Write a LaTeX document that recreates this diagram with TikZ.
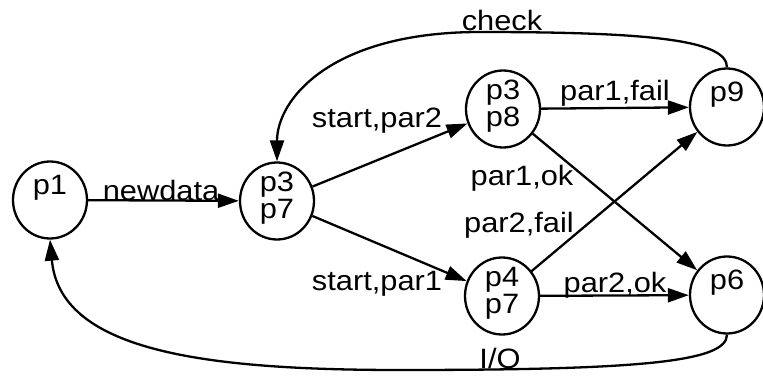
\documentclass[tikz,border=0pt]{standalone}
\usepackage{fontspec}
\setmainfont{Liberation Sans}[FakeStretch=1.1]
\usetikzlibrary{arrows.meta,shapes.geometric}
\begin{document}
\begin{tikzpicture}[x=1pt,y=1pt,
  state/.style={draw, ellipse, line width=2.3pt, minimum width=74pt, minimum height=77pt, inner sep=0pt},
  txt/.style={font=\fontsize{28pt}{28pt}\selectfont, inner sep=0pt, anchor=base},
  edge/.style={line width=2.3pt, -{Triangle[length=21pt,width=14pt]}}]
\useasboundingbox (0,0) rectangle (763,376);
% states
\node[state] (p1)  at (50,176) {};
\node[state] (p37) at (277,175) {};
\node[state] (p38) at (503,267) {};
\node[state] (p9)  at (727,269) {};
\node[state] (p47) at (502,80) {};
\node[state] (p6)  at (727,81) {};
% state texts
\node[txt] (t1)   at (50,182) {p1};
\node[txt] (t37a) at (277,185) {p3};
\node[txt] (t37b) at (277,158) {p7};
\node[txt] (t38a) at (503,277) {p3};
\node[txt] (t38b) at (503,250) {p8};
\node[txt] (t9)   at (727,275) {p9};
\node[txt] (t47a) at (502,90) {p4};
\node[txt] (t47b) at (502,63) {p7};
\node[txt] (t6)   at (727,87) {p6};
% edges
\draw[edge] (p1) -- (p37);
\draw[edge] (p37) -- (p38);
\draw[edge] (p37) -- (p47);
\draw[edge] (p38) -- (p9);
\draw[edge] (p38) -- (p6);
\draw[edge] (p47) -- (p9);
\draw[edge] (p47) -- (p6);
\draw[edge] (p9.north) .. controls (727,336) and (650,344) .. (480,344)
                        .. controls (330,344) and (277,276) .. (p37.north);
\draw[edge] (p6.south) .. controls (727,14) and (640,6) .. (400,6)
                        .. controls (200,6) and (60,26) .. (p1.south);
% edge labels
\node[txt] (l1) at (161,176) {newdata};
\node[txt] (l2) at (377,249) {start,par2};
\node[txt] (l3) at (377,86) {start,par1};
\node[txt] (l4) at (522,191) {par1,ok};
\node[txt] (l5) at (519,144) {par2,fail};
\node[txt] (l6) at (615,276) {par1,fail};
\node[txt] (l7) at (615,84) {par2,ok};
\node[txt] (l8) at (502,346) {check};
\node[txt] (l9) at (500,8) {I/O};
\end{tikzpicture}
\end{document}
